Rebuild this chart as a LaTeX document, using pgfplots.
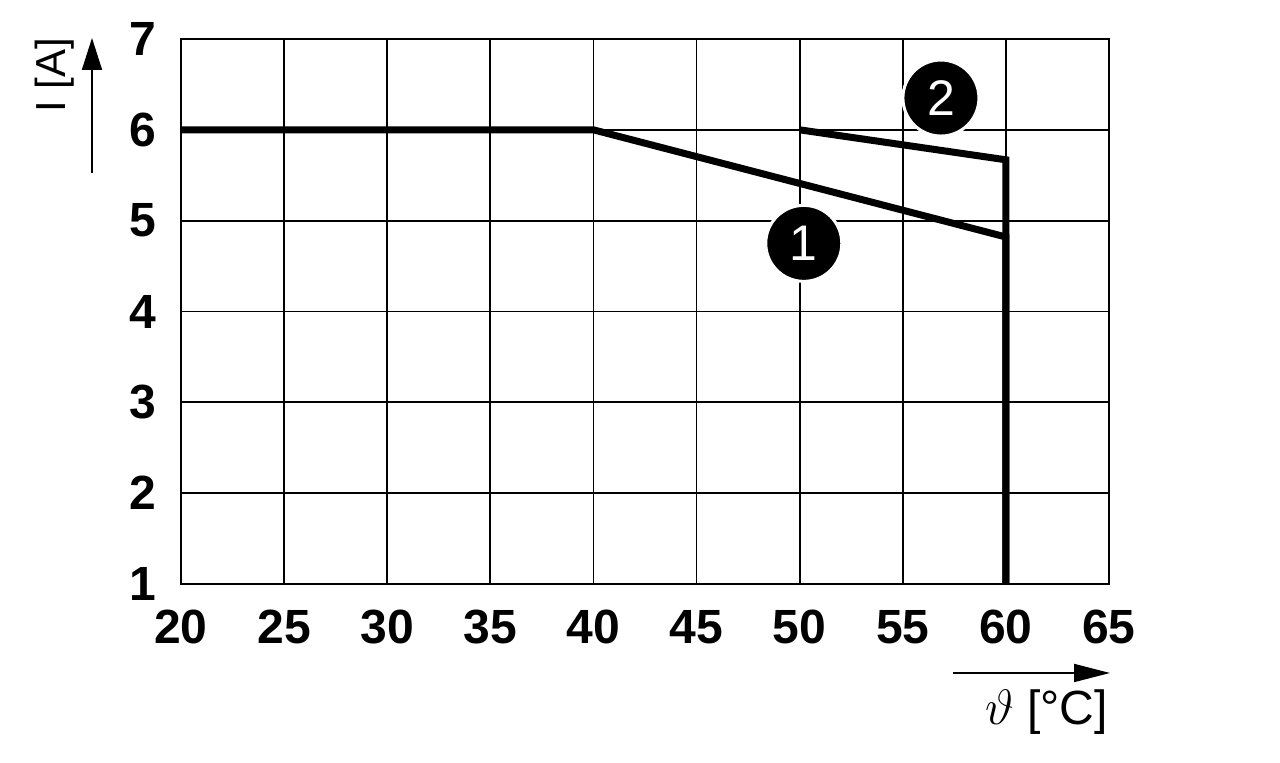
\documentclass[border=0pt]{standalone}
\usepackage{fontspec}
\setmainfont{Liberation Sans}
\usepackage{pgfplots}
\pgfplotsset{compat=1.18}
\usetikzlibrary{arrows.meta}
\begin{document}
\begin{tikzpicture}
\useasboundingbox (-90.5pt,-89.5pt) rectangle (549.5pt,292pt);
\begin{axis}[
  at={(0,0)}, anchor=south west,
  scale only axis, width=464pt, height=272.5pt,
  xmin=20, xmax=65, ymin=1, ymax=7,
  xtick={20,25,...,65}, ytick={1,2,...,7},
  grid=major, major grid style={black, line width=0.9pt},
  axis line style={black, line width=0.9pt},
  major tick length=0pt,
  /pgf/number format/assume math mode=true,
  ticklabel style={font=\bfseries\fontsize{24}{28}\selectfont},
  xticklabel style={yshift=-9.5pt},
  yticklabel style={xshift=-9pt},
  clip=false,
]
\addplot[black, line width=3.5pt, line join=miter] coordinates {(20,6) (40,6) (60,4.82) (60,1)};
\addplot[black, line width=3.5pt, line join=miter] coordinates {(50,6) (60,5.67) (60,1)};
\addplot[only marks, mark=*, mark size=19pt, black,
  mark options={fill=black, draw=white, line width=1.5pt},
  point meta=explicit symbolic,
  nodes near coords,
  every node near coord/.append style={anchor=center, text=white, font=\fontsize{25}{29}\selectfont, inner sep=0pt}]
  coordinates {(50.2,4.75) [1] (56.85,6.35) [2]};
\end{axis}
\draw[line width=0.9pt, -{Triangle[length=16pt, width=10pt]}] (-44.5pt,205.5pt) -- (-44.5pt,273pt);
\node[rotate=90, font=\fontsize{21}{25}\selectfont, inner sep=0pt] at (-63pt,254.5pt) {I [A]};
\draw[line width=0.9pt, -{Triangle[length=18pt, width=9pt]}] (386pt,-44.5pt) -- (464.5pt,-44.5pt);
\node[anchor=east, font=\fontsize{21}{25}\selectfont, inner sep=0pt] at (463.5pt,-64pt) {\fontsize{24}{28}\selectfont$\vartheta$ [°C]};
\end{tikzpicture}
\end{document}
